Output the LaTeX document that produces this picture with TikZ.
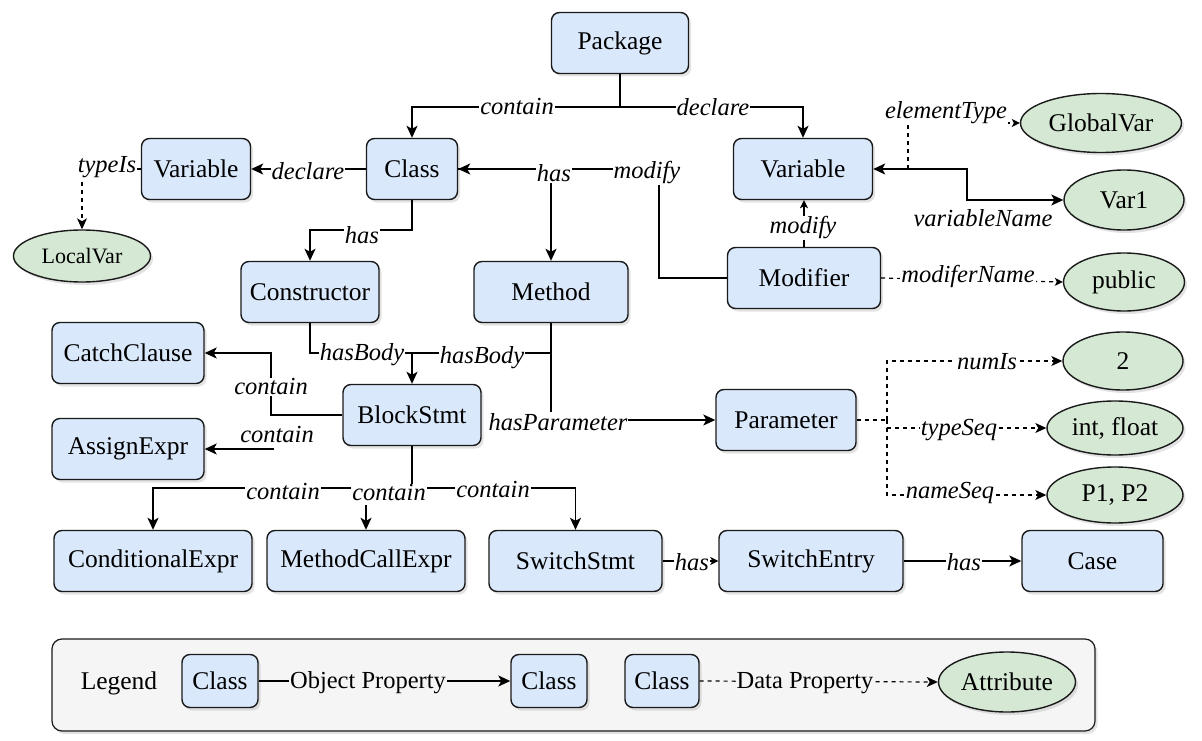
\documentclass[tikz,border=0pt]{standalone}
\usepackage{fontspec}
\setmainfont{Liberation Serif}
\usetikzlibrary{arrows.meta,shapes.geometric,shadows,calc}
\definecolor{cblue}{HTML}{DAE8FC}
\definecolor{cgreen}{HTML}{D5E8D4}
\definecolor{cgray}{HTML}{F5F5F5}
\definecolor{cedge}{HTML}{1A1A1A}
\begin{document}
\begin{tikzpicture}[x=1pt,y=-1pt,
  shad/.style={drop shadow={opacity=0.22,shadow xshift=2.5pt,shadow yshift=-3pt}},
  cls/.style={draw=cedge,line width=1.4pt,fill=cblue,rounded corners=8pt,
    minimum width=#1,minimum height=61pt,inner sep=0pt,shad,
    font=\fontsize{25.5}{30}\selectfont},
  lcls/.style={cls=#1,minimum height=53pt},
  attr/.style={ellipse,draw=cedge,line width=1.4pt,fill=cgreen,inner sep=0pt,shad,
    font=\fontsize{25.5}{30}\selectfont},
  lab/.style={fill=white,inner sep=1pt,font=\itshape\fontsize{24.5}{28}\selectfont},
  plab/.style={fill=white,inner sep=1pt,font=\fontsize{24.5}{28}\selectfont},
  obj/.style={draw=black,line width=1.4pt,-{Stealth[length=12pt,width=11pt,inset=3pt]}},
  objs/.style={draw=black,line width=1.4pt,-{Stealth[length=8pt,width=8pt,inset=2pt]}},
  objn/.style={draw=black,line width=1.4pt},
  objb/.style={draw=black,line width=1.4pt,{Stealth[length=12pt,width=11pt,inset=3pt]}-{Stealth[length=12pt,width=11pt,inset=3pt]}},
  dat/.style={draw=black,line width=1.2pt,dash pattern=on 4pt off 4pt,-{Stealth[length=11pt,width=10pt,inset=3pt]}},
  datn/.style={draw=black,line width=1.2pt,dash pattern=on 4pt off 4pt},
  dats/.style={draw=black,line width=1.2pt,dash pattern=on 4pt off 4pt,-{Stealth[length=8pt,width=8pt,inset=2pt]}}
]
\useasboundingbox (0,0) rectangle (1202,741);

% class nodes
\node[cls=137] (pkg) at (620,43) {Package};
\node[cls=91] (cls) at (412,169) {Class};
\node[cls=109] (varL) at (196,169) {Variable};
\node[cls=139] (varR) at (803,169) {Variable};
\node[cls=138] (ctor) at (310,292) {Constructor};
\node[cls=154] (meth) at (551,292) {Method};
\node[cls=153] (modi) at (804,278) {Modifier};
\node[cls=138] (blk) at (412,415) {BlockStmt};
\node[cls=152] (catch) at (128,353) {CatchClause};
\node[cls=152] (assign) at (128,449) {AssignExpr};
\node[cls=140] (param) at (786,420) {Parameter};
\node[cls=198] (cond) at (153,561) {ConditionalExpr};
\node[cls=198] (mcall) at (366,561) {MethodCallExpr};
\node[cls=173] (sw) at (575.5,561) {SwitchStmt};
\node[cls=184] (swe) at (811,561) {SwitchEntry};
\node[cls=141] (case) at (1092.5,561) {Case};

% attribute nodes
\node[attr,minimum width=137pt,minimum height=52pt,font=\fontsize{22}{26}\selectfont] (localvar) at (82,256) {LocalVar};
\node[attr,minimum width=161pt,minimum height=59pt] (globalvar) at (1101,123) {GlobalVar};
\node[attr,minimum width=120pt,minimum height=60pt] (var1) at (1124,200) {Var1};
\node[attr,minimum width=121pt,minimum height=58pt] (public) at (1124,282) {public};
\node[attr,minimum width=120pt,minimum height=58pt] (two) at (1123,361) {2};
\node[attr,minimum width=136pt,minimum height=54pt] (intf) at (1115,428) {int, float};
\node[attr,minimum width=136pt,minimum height=56pt] (p12) at (1115,495) {P1, P2};

% free ends
\coordinate (et) at (908,169);
\coordinate (ae) at (274,449);
\coordinate (mc) at (366,505);
\coordinate (pj) at (887,420);

% connectors
\draw[obj] (pkg.south) |- (412,107) -- (cls.north);
\draw[obj] (pkg.south) |- (803,107) -- (varR.north);
\draw[obj] (cls.west) -- (varL.east);
\draw[dat] (varL.west) -| (localvar.north);
\draw[obj] (cls.south) |- (310,230) -- (ctor.north);
\draw[obj] (cls.east) -| (meth.north);
\draw[obj] (modi.west) -| (659,169) -- (cls.east);
\draw[objs] (modi.north) -- (modi.north |- varR.south);
\draw[objb] (varR.east) -| (967,200) -- (var1.west);
\draw[dats] (et) |- (globalvar.west);
\draw[dats] (modi.east) -- (public.west);
\draw[obj] (ctor.south) |- (412,353) -- (blk.north);
\draw[objn] (meth.south) |- (412,353);
\draw[obj] (meth.south) |- (param.west);
\draw[obj] (blk.west) -| (271,353) -- (catch.east);
\draw[obj] (ae) -- (assign.east);
\draw[obj] (blk.south) -- (412,488) -| (cond.north);
\draw[obj] (blk.south) -- (412,488) -| (sw.north);
\draw[obj] (mc) -- (mcall.north);
\draw[objs] (sw.east) -- (swe.west);
\draw[obj] (swe.east) -- (case.west);
\draw[datn] (param.east) -- (pj);
\draw[dat] (pj) |- (two.west);
\draw[dat] (pj) |- (intf.west);
\draw[dat] (pj) |- (p12.west);

% labels
\node[lab] (l1) at (517,107) {contain};
\node[lab] (l2) at (713,107) {declare};
\node[lab] (l3) at (308,171) {declare};
\node[lab] (l4) at (107,167) {typeIs};
\node[lab] (l5) at (362,235) {has};
\node[lab] (l6) at (554,173) {has};
\node[lab] (l7) at (647,173) {modify};
\node[lab] (l8) at (803,228) {modify};
\node[lab] (l9) at (946,113) {elementType};
\node[lab] (l10) at (983,218) {variableName};
\node[lab] (l11) at (968,276) {modiferName};
\node[lab] (l12) at (362,355) {hasBody};
\node[lab] (l13) at (482,358) {hasBody};
\node[lab] (l14) at (558,422) {hasParameter};
\node[lab] (l15) at (271,387) {contain};
\node[lab] (l16) at (277,435) {contain};
\node[lab] (l17) at (283,492) {contain};
\node[lab] (l18) at (389,493) {contain};
\node[lab] (l19) at (493,490) {contain};
\node[lab] (l20) at (692,562) {has};
\node[lab] (l21) at (964,562) {has};
\node[lab] (l22) at (987,362) {numIs};
\node[lab] (l23) at (959,430) {typeSeq};
\node[lab] (l24) at (950,493) {nameSeq};

% legend
\node[draw=cedge,line width=1.2pt,fill=cgray,rounded corners=10pt,minimum width=1043pt,minimum height=92pt,shad] (leg) at (573.5,685) {};
\node[font=\fontsize{25.5}{30}\selectfont] (legt) at (119,683) {Legend};
\node[lcls=76] (lc1) at (220,681) {Class};
\node[lcls=76] (lc2) at (549,681) {Class};
\node[lcls=74] (lc3) at (662,681) {Class};
\node[attr,minimum width=137pt,minimum height=60pt] (attrL) at (1007,682) {Attribute};
\draw[obj] (lc1.east) -- (lc2.west);
\draw[dat] (lc3.east) -- (attrL.west);
\node[plab,fill=cgray] (lo) at (368,683) {Object Property};
\node[plab,fill=cgray] (ld) at (805,683) {Data Property};
\end{tikzpicture}
\end{document}
